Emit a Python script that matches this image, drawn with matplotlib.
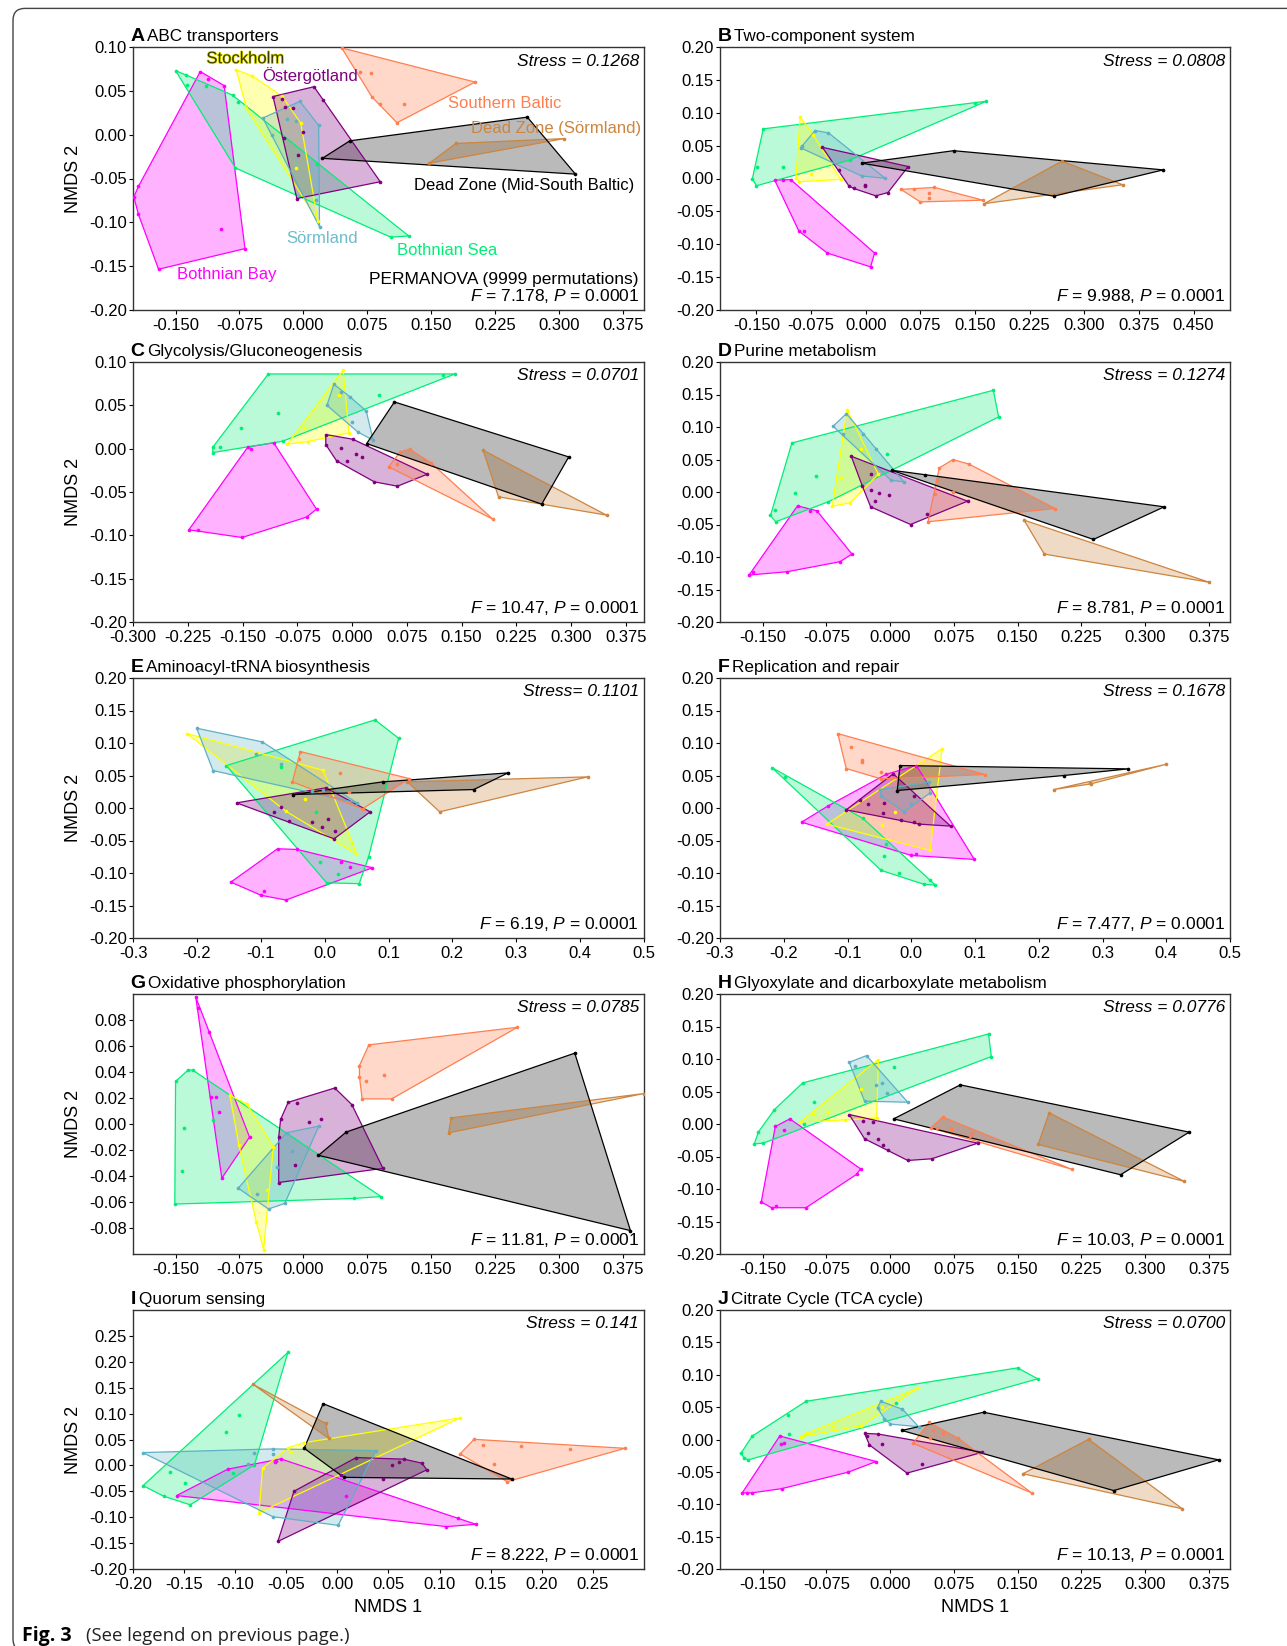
import matplotlib
matplotlib.use('Agg')
import matplotlib.pyplot as plt
import matplotlib.patheffects as pe
from matplotlib.patches import Polygon, FancyBboxPatch
from matplotlib.offsetbox import TextArea, HPacker, AnchoredOffsetbox
import numpy as np

plt.rcParams['font.family'] = ['Liberation Sans', 'DejaVu Sans']
plt.rcParams['axes.unicode_minus'] = False
plt.rcParams['mathtext.fontset'] = 'custom'
plt.rcParams['mathtext.it'] = 'Liberation Sans:italic'
plt.rcParams['mathtext.rm'] = 'Liberation Sans'

# group order / colours
groups = ['bay', 'sea', 'stock', 'oster', 'sorm', 'south', 'dzs', 'dzm']
colors = {'bay': '#FF00FF', 'sea': '#00EE76', 'stock': '#FFFF00', 'oster': '#800080',
          'sorm': '#5FB0C4', 'south': '#FF7F50', 'dzs': '#CD853F', 'dzm': '#000000'}
fill_alpha = {'bay': 0.3, 'sea': 0.27, 'stock': 0.3, 'oster': 0.3,
              'sorm': 0.28, 'south': 0.3, 'dzs': 0.3, 'dzm': 0.27}

# ---- NMDS site scores (x, y) ----
A_pts = dict(
    bay=[(-0.121, 0.072), (-0.093, 0.056), (-0.112, 0.064), (-0.0685, -0.130), (-0.170, -0.1535),
         (-0.199, -0.071), (-0.1936, -0.059), (-0.1936, -0.091), (-0.097, -0.108)],
    sea=[(-0.150, 0.073), (-0.1375, 0.068), (-0.1366, 0.057), (-0.114, 0.056), (-0.083, 0.045),
         (-0.0765, 0.037), (0.016, -0.033), (0.1237, -0.1155), (0.1028, -0.117), (-0.0797, -0.038)],
    stock=[(-0.0788, 0.074), (-0.060, 0.067), (-0.025, 0.044), (-0.003, 0.013), (0.017, -0.098),
           (-0.0668, 0.030), (-0.009, -0.0375)],
    oster=[(-0.0356, 0.0435), (0.0125, 0.0547), (0.0227, 0.0397), (0.0903, -0.0537), (-0.0076, -0.0729),
           (-0.0254, 0.041), (-0.022, 0.031), (-0.012, 0.030), (-0.023, -0.004), (0.000, 0.003), (-0.006, -0.023)],
    sorm=[(-0.0476, 0.019), (-0.004, 0.038), (0.018, 0.0105), (0.019, -0.105), (-0.0365, 0.000),
          (-0.0196, 0.018), (-0.0085, 0.016), (0.0147, -0.075)],
    south=[(0.045, 0.099), (0.2016, 0.060), (0.110, 0.0136), (0.067, 0.072), (0.079, 0.070),
           (0.0806, 0.043), (0.0895, 0.035), (0.118, 0.0355)],
    dzs=[(0.148, -0.0325), (0.179, -0.010), (0.306, -0.0045)],
    dzm=[(0.0223, -0.027), (0.0547, -0.007), (0.263, 0.020), (0.3195, -0.045)],
)

B_pts = dict(
    bay=[(-0.125, -0.0023), (-0.1139, -0.0023), (-0.1028, -0.0018), (-0.0917, -0.080), (-0.0844, -0.080),
         (-0.0528, -0.1134), (0.0122, -0.1134), (0.0067, -0.1344)],
    sea=[(0.1656, 0.1175), (0.150, 0.1145), (-0.1406, 0.0755), (-0.1556, -0.0003), (-0.150, -0.011),
         (-0.149, 0.0172), (-0.114, 0.0177), (-0.0222, 0.0279)],
    stock=[(-0.090, 0.0935), (-0.0956, 0.0013), (-0.0917, -0.005), (-0.0344, -0.0013), (-0.075, 0.0064),
           (-0.0722, 0.0668)],
    oster=[(-0.0594, 0.0474), (0.0583, 0.0182), (0.0306, -0.0213), (0.0139, -0.0264), (-0.0167, -0.0151),
           (-0.0233, -0.011), (-0.0361, 0.0131), (-0.001, -0.010), (-0.001, -0.012)],
    sorm=[(-0.0694, 0.073), (-0.0511, 0.0694), (-0.0889, 0.0464), (0.0267, 0.0003), (-0.0056, 0.0038),
          (-0.0878, 0.0489)],
    south=[(0.0483, -0.0166), (0.0667, -0.0156), (0.0944, -0.0136), (0.1611, -0.033), (0.075, -0.0356),
           (0.0867, -0.0228), (0.0867, -0.0295)],
    dzs=[(0.1628, -0.0382), (0.2694, 0.0264), (0.3528, -0.0095)],
    dzm=[(-0.0056, 0.0233), (0.1206, 0.0423), (0.4083, 0.0131), (0.2583, -0.0269)],
)

C_pts = dict(
    bay=[(-0.1426, 0.002), (-0.1072, 0.0067), (-0.0486, -0.0698), (-0.0623, -0.079), (-0.1506, -0.1025),
         (-0.2113, -0.094), (-0.2235, -0.0936), (-0.139, 0.000)],
    sea=[(-0.1146, 0.0862), (0.141, 0.0862), (0.124, 0.0846), (-0.1907, 0.0017), (-0.1907, -0.0045),
         (-0.1807, 0.0017), (-0.152, 0.0243), (-0.1014, 0.0416), (0.037, 0.0624), (-0.095, 0.0086)],
    stock=[(-0.0122, 0.0904), (-0.0042, 0.0182), (-0.0887, 0.0051), (-0.0607, 0.0082), (-0.066, 0.024),
           (-0.0174, 0.0616)],
    oster=[(-0.0359, 0.0163), (0.0011, 0.0109), (0.103, -0.0295), (0.0623, -0.0433), (0.0306, -0.0383),
           (-0.0211, -0.0141), (-0.0359, 0.0047), (-0.0148, 0.0009), (0.0053, -0.0064), (0.0132, -0.0099),
           (-0.0063, -0.0141)],
    sorm=[(-0.0248, 0.0743), (-0.0343, 0.050), (0.0195, 0.0435), (0.029, 0.0097), (-0.0148, 0.0654),
          (-0.0026, 0.0597), (0.0, 0.0305), (0.0079, 0.0193)],
    south=[(0.0792, -0.0007), (0.066, -0.0037), (0.0502, -0.021), (0.1928, -0.0813), (0.1083, -0.0164),
           (0.0993, -0.0126), (0.0623, -0.0172)],
    dzs=[(0.1796, -0.0018), (0.2007, -0.0556), (0.3487, -0.0767), (0.2599, -0.0633)],
    dzm=[(0.0201, 0.0059), (0.0581, 0.0539), (0.2969, -0.0095), (0.2599, -0.064)],
)

D_pts = dict(
    bay=[(-0.1088, -0.0213), (-0.086, -0.0289), (-0.0936, -0.0289), (-0.0447, -0.0955), (-0.0589, -0.1073),
         (-0.1211, -0.1227), (-0.161, -0.1227), (-0.1658, -0.1278)],
    sea=[(0.1216, 0.1565), (0.1278, 0.1155), (-0.1154, 0.0755), (-0.1406, -0.0361), (-0.1344, -0.0458),
         (-0.1349, -0.0279), (-0.1121, -0.0023), (-0.0869, 0.0243), (-0.0727, -0.0151), (-0.0038, 0.0581)],
    stock=[(-0.0504, 0.1268), (-0.0679, -0.0218), (-0.047, -0.0167), (-0.0138, 0.0274), (-0.0575, 0.0223),
           (-0.0337, 0.0663)],
    oster=[(-0.0456, 0.055), (0.0912, -0.0141), (0.0242, -0.05), (-0.0228, -0.0228), (-0.0328, 0.01),
           (-0.0228, 0.0284), (-0.0228, 0.0038), (-0.0124, -0.0023), (-0.018, -0.0136), (-0.001, -0.0049),
           (0.0432, -0.0341)],
    sorm=[(-0.067, 0.1012), (-0.0513, 0.1206), (0.0162, 0.0156), (0.001, 0.0182), (-0.0551, 0.0899),
          (-0.0314, 0.0889), (-0.0166, 0.0668)],
    south=[(0.0741, 0.0499), (0.0931, 0.0428), (0.058, 0.0371), (0.0551, 0.0192), (0.0527, -0.0033),
           (0.0447, -0.0458), (0.1943, -0.0254), (0.0736, 0.0)],
    dzs=[(0.1577, -0.0433), (0.1815, -0.0955), (0.3758, -0.139)],
    dzm=[(0.0019, 0.0335), (0.0413, 0.0259), (0.3226, -0.0228), (0.2394, -0.073)],
)

E_pts = dict(
    bay=[(-0.0737, -0.0627), (-0.0428, -0.0638), (0.0749, -0.0919), (-0.0606, -0.1416), (-0.0993, -0.1344),
         (-0.1468, -0.114), (-0.0945, -0.1278), (0.0256, -0.0832), (0.0404, -0.0904)],
    sea=[(0.079, 0.1355), (0.1159, 0.1073), (0.0541, -0.1165), (0.003, -0.115), (-0.1539, 0.0653),
         (-0.0683, 0.0627), (-0.0131, -0.0064), (-0.0071, -0.0827), (0.0214, -0.1022), (0.0689, -0.075)],
    stock=[(-0.2152, 0.1145), (-0.0024, 0.0581), (0.0493, -0.0704), (0.0434, -0.0535), (-0.0606, -0.005),
           (-0.0309, 0.0146)],
    oster=[(-0.1379, 0.0079), (0.0018, 0.031), (0.0713, -0.0059), (0.0149, -0.0474), (-0.0796, -0.0064),
           (-0.0678, 0.0008), (-0.0565, -0.0202), (-0.0202, -0.0218), (-0.0042, -0.0289), (0.0059, -0.0166),
           (0.0155, -0.0356)],
    sorm=[(-0.2003, 0.1227), (-0.0975, 0.1017), (0.0505, 0.0079), (-0.1747, 0.0576), (-0.107, 0.0832),
          (-0.0683, 0.0679), (-0.019, 0.0259), (-0.0024, 0.0284)],
    south=[(-0.038, 0.0868), (0.1325, 0.0453), (0.0594, -0.0013), (-0.0505, 0.0402), (-0.0398, 0.0755),
           (0.0244, 0.0545), (0.0374, 0.0243)],
    dzs=[(0.1296, 0.0402), (0.4119, 0.0479), (0.1801, -0.0059)],
    dzm=[(-0.0499, 0.0207), (0.0909, 0.0402), (0.2871, 0.054), (0.2336, 0.0284)],
)

F_pts = dict(
    bay=[(0.0082, 0.0653), (0.0989, -0.0791), (0.0082, -0.0704), (0.0, -0.073), (-0.172, -0.0218),
         (-0.1304, 0.0033), (-0.039, 0.052)],
    sea=[(-0.2186, 0.0622), (-0.1984, 0.0479), (-0.0756, -0.0161), (-0.0391, -0.0561), (-0.0422, -0.074),
         (-0.0472, -0.096), (-0.0189, -0.0996), (0.0202, -0.1175), (0.0296, -0.1114), (0.0378, -0.1186)],
    stock=[(0.0485, 0.0914), (0.0296, -0.0653), (-0.1323, -0.0248), (-0.0252, -0.0064), (-0.0454, -0.0254)],
    oster=[(-0.0283, 0.0525), (-0.102, -0.0028), (0.0617, -0.0279), (-0.0806, 0.012), (-0.0674, 0.0069),
           (-0.0422, 0.0079), (-0.0441, -0.0084), (-0.0157, -0.0187), (0.005, -0.0213), (0.0126, -0.0248),
           (0.0044, 0.0192)],
    sorm=[(-0.0485, 0.0284), (0.0271, 0.0397), (0.0296, 0.0233), (-0.0113, -0.0059), (-0.0472, 0.0182),
          (0.0, 0.0069)],
    south=[(-0.1153, 0.1145), (0.1153, 0.0515), (-0.0472, 0.0448), (-0.102, 0.0607), (-0.0945, 0.0935),
           (-0.0769, 0.0745), (-0.0769, 0.0715), (-0.0472, 0.055)],
    dzs=[(0.2236, 0.0284), (0.2803, 0.0387), (0.4, 0.0673), (0.2816, 0.0371)],
    dzm=[(-0.0176, 0.0653), (-0.022, 0.0269), (0.2394, 0.05), (0.3402, 0.0602)],
)

G_pts = dict(
    bay=[(-0.1264, 0.0979), (-0.1242, 0.0889), (-0.1113, 0.0706), (-0.0632, -0.0101), (-0.0957, -0.0417),
         (-0.109, 0.0205), (-0.1024, 0.0208), (-0.0988, 0.0093)],
    sea=[(-0.15, 0.0328), (-0.1353, 0.0415), (-0.13, 0.0415), (0.0912, -0.0558), (0.0592, -0.0573),
         (-0.1509, -0.0616), (-0.1397, -0.0034), (-0.142, -0.0361), (-0.1055, 0.0029)],
    stock=[(-0.0863, 0.0221), (-0.0663, 0.0154), (-0.0352, -0.0175), (-0.0467, -0.0966), (-0.0552, -0.0756),
           (-0.0757, -0.0162), (-0.0423, -0.0507)],
    oster=[(-0.0178, 0.0167), (0.0369, 0.0277), (0.057, 0.0149), (0.0935, -0.0341), (-0.0289, -0.045),
           (-0.0267, 0.0035), (-0.0076, 0.0162), (-0.0289, -0.0098), (0.0067, 0.0017), (0.0205, 0.0042),
           (-0.0098, -0.0315)],
    sorm=[(-0.0765, -0.0494), (-0.0409, -0.0654), (-0.0218, -0.0611), (0.0182, -0.0016), (-0.0196, -0.0067),
          (-0.0134, -0.0208), (-0.0307, -0.0331), (-0.0543, -0.0542)],
    south=[(0.077, 0.0609), (0.2514, 0.0744), (0.1037, 0.0193), (0.069, 0.0193), (0.0659, 0.045),
           (0.0659, 0.0364), (0.0739, 0.0333), (0.0948, 0.0379)],
    dzs=[(0.1736, 0.0047), (0.1705, -0.0068), (0.3996, 0.0234)],
    dzm=[(0.0178, -0.0241), (0.0503, -0.0062), (0.3187, 0.0545), (0.3841, -0.082)],
)

H_pts = dict(
    bay=[(-0.1178, 0.0079), (-0.1349, -0.0038), (-0.0347, -0.0689), (-0.0394, -0.0776), (-0.0988, -0.1288),
         (-0.1392, -0.1288), (-0.1515, -0.1201), (-0.1249, -0.0085), (-0.1340, -0.1260)],
    sea=[(0.1159, 0.1385), (0.1192, 0.1037), (-0.1026, 0.0633), (-0.1359, 0.0223), (-0.1549, -0.0125),
         (-0.1596, -0.0305), (-0.1492, -0.0295), (-0.1012, 0.0003), (-0.0893, 0.0335), (0.0052, 0.0883)],
    stock=[(-0.0138, 0.0991), (-0.0157, 0.009), (-0.0527, 0.0064), (-0.1059, 0.0028), (-0.0907, 0.0156),
           (-0.0727, 0.0192), (-0.0337, 0.054)],
    oster=[(-0.048, 0.0146), (0.1031, -0.0295), (0.0494, -0.0535), (0.0209, -0.0561), (-0.0299, -0.0228),
           (-0.0314, 0.0044), (-0.0195, 0.0028), (-0.0257, -0.0141), (-0.0138, -0.0228), (-0.0086, -0.033),
           (-0.0029, -0.0397)],
    sorm=[(-0.048, 0.095), (-0.0276, 0.1052), (0.0209, 0.0335), (-0.0299, 0.0351), (-0.0162, 0.0602),
          (-0.01, 0.0633), (-0.0038, 0.0479), (-0.041, 0.090)],
    south=[(0.0622, 0.0105), (0.048, -0.0059), (0.2143, -0.0699), (0.0969, -0.0136), (0.0556, -0.0059),
           (0.0722, -0.0074), (0.0936, -0.0187)],
    dzs=[(0.1872, 0.0172), (0.1743, -0.0315), (0.3463, -0.0883)],
    dzm=[(0.0043, 0.0079), (0.0827, 0.0602), (0.352, -0.0125), (0.2713, -0.0781)],
)

I_pts = dict(
    bay=[(-0.1573, -0.0582), (-0.1071, -0.0072), (-0.0602, 0.0088), (-0.0554, 0.0126), (0.1355, -0.1137),
         (0.1182, -0.1023), (0.1067, -0.1182), (0.0081, -0.0582), (-0.0609, 0.0062)],
    sea=[(-0.0484, 0.2181), (-0.0812, 0.0011), (-0.144, -0.0761), (-0.1699, -0.0595), (-0.1902, -0.0391),
         (-0.1636, -0.0129), (-0.1496, -0.0346), (-0.1093, 0.0643), (-0.0964, 0.0981), (-0.1019, -0.0148)],
    stock=[(0.12, 0.0917), (-0.0768, -0.0914), (-0.0731, -0.0053), (-0.048, 0.0343), (-0.0454, 0.0267),
           (-0.0325, 0.0439)],
    oster=[(0.0185, 0.0152), (0.0654, 0.012), (0.0827, 0.0043), (0.0875, -0.0085), (-0.0583, -0.1469),
           (-0.0425, -0.0499), (0.0535, 0.0011), (0.0598, 0.0075), (0.0443, -0.027), (0.0037, -0.018)],
    sorm=[(-0.1905, 0.0247), (0.0377, 0.0286), (0.0007, -0.1157), (-0.0631, -0.0991), (-0.0812, 0.0235),
          (-0.0631, 0.0318), (-0.0631, 0.0222), (-0.0871, 0.0024)],
    south=[(0.1337, 0.0503), (0.2814, 0.033), (0.1662, -0.0314), (0.12, 0.0222), (0.1429, 0.0394),
           (0.1798, 0.0369), (0.2278, 0.0311), (0.1532, 0.0024)],
    dzs=[(-0.0823, 0.1562), (-0.0114, 0.0809), (-0.0085, 0.0522)],
    dzm=[(-0.014, 0.1192), (-0.0325, 0.033), (0.0063, -0.0231), (0.1706, -0.0263)],
)

J_pts = dict(
    bay=[(-0.1297, 0.0054), (-0.0162, -0.034), (-0.0489, -0.0503), (-0.1273, -0.0759), (-0.1629, -0.0825),
         (-0.1677, -0.0825), (-0.1739, -0.0825), (-0.1287, -0.0074), (-0.1249, -0.0059)],
    sea=[(0.1501, 0.1106), (0.1739, 0.0937), (-0.0988, 0.059), (-0.1202, 0.0381), (-0.162, 0.0054),
         (-0.1753, -0.0212), (-0.1715, -0.0289), (-0.1667, -0.0314), (-0.1183, 0.0084), (0.0067, 0.057)],
    stock=[(0.0328, 0.0794), (-0.105, 0.0043), (-0.0979, 0.0094), (-0.0337, 0.0212), (-0.067, 0.0212),
           (-0.01, 0.0503)],
    oster=[(-0.0299, 0.0095), (-0.0138, 0.0084), (0.1088, -0.0197), (0.02, -0.0519), (-0.0242, -0.0084),
           (-0.009, -0.0069), (0.0375, -0.0375), (-0.027, 0.006)],
    sorm=[(-0.0109, 0.059), (0.0147, 0.0467), (0.0337, 0.0197), (0.0005, 0.0238), (-0.0147, 0.0488),
          (-0.0067, 0.0324)],
    south=[(0.0461, 0.0263), (0.0803, 0.0018), (0.1667, -0.0825), (0.0271, -0.0059), (0.0508, 0.0146),
           (0.0622, 0.0095), (0.047, 0.0028)],
    dzs=[(0.2337, 0.0003), (0.3439, -0.107), (0.1563, -0.0529)],
    dzm=[(0.0138, 0.014), (0.1102, 0.0421), (0.3867, -0.0314), (0.2632, -0.0789)],
)

panel_letters = ['A', 'B', 'C', 'D', 'E', 'F', 'G', 'H', 'I', 'J']
panel_titles = ['ABC transporters', 'Two-component system', 'Glycolysis/Gluconeogenesis',
                'Purine metabolism', 'Aminoacyl-tRNA biosynthesis', 'Replication and repair',
                'Oxidative phosphorylation', 'Glyoxylate and dicarboxylate metabolism',
                'Quorum sensing', 'Citrate Cycle (TCA cycle)']
panel_data = [A_pts, B_pts, C_pts, D_pts, E_pts, F_pts, G_pts, H_pts, I_pts, J_pts]
stress_labels = ['Stress = 0.1268', 'Stress = 0.0808', 'Stress = 0.0701', 'Stress = 0.1274',
                 'Stress= 0.1101', 'Stress = 0.1678', 'Stress = 0.0785', 'Stress = 0.0776',
                 'Stress = 0.141', 'Stress = 0.0700']
f_values = ['7.178', '9.988', '10.47', '8.781', '6.19', '7.477', '11.81', '10.03', '8.222', '10.13']

# axis settings: xlim, xticks, x decimals, ylim, yticks, y decimals
x075 = np.arange(-0.150, 0.376, 0.075)
y05 = np.arange(-0.20, 0.201, 0.05)
axis_cfg = [
    ((-0.2, 0.4), x075, 3, (-0.2, 0.1), np.arange(-0.20, 0.101, 0.05), 2),
    ((-0.2, 0.5), np.arange(-0.150, 0.451, 0.075), 3, (-0.2, 0.2), y05, 2),
    ((-0.3, 0.4), np.arange(-0.300, 0.376, 0.075), 3, (-0.2, 0.1), np.arange(-0.20, 0.101, 0.05), 2),
    ((-0.2, 0.4), x075, 3, (-0.2, 0.2), y05, 2),
    ((-0.3, 0.5), np.arange(-0.3, 0.51, 0.1), 1, (-0.2, 0.2), y05, 2),
    ((-0.3, 0.5), np.arange(-0.3, 0.51, 0.1), 1, (-0.2, 0.2), y05, 2),
    ((-0.2, 0.4), x075, 3, (-0.1, 0.1), np.arange(-0.08, 0.081, 0.02), 2),
    ((-0.2, 0.4), x075, 3, (-0.2, 0.2), y05, 2),
    ((-0.2, 0.3), np.arange(-0.20, 0.251, 0.05), 2, (-0.2, 0.3), np.arange(-0.20, 0.251, 0.05), 2),
    ((-0.2, 0.4), x075, 3, (-0.2, 0.2), y05, 2),
]


def convex_hull(pts):
    p = sorted(set(pts))
    if len(p) < 3:
        return p

    def cross(o, a, b):
        return (a[0] - o[0]) * (b[1] - o[1]) - (a[1] - o[1]) * (b[0] - o[0])
    lower, upper = [], []
    for q in p:
        while len(lower) >= 2 and cross(lower[-2], lower[-1], q) <= 0:
            lower.pop()
        lower.append(q)
    for q in reversed(p):
        while len(upper) >= 2 and cross(upper[-2], upper[-1], q) <= 0:
            upper.pop()
        upper.append(q)
    return lower[:-1] + upper[:-1]


def fmt(vals, d):
    return ['%.*f' % (d, round(v, 6) + 0.0) for v in vals]


W, H = 1287, 1646
fig = plt.figure(figsize=(W / 100, H / 100), dpi=100)

col_left = [133, 720]
col_right = [644, 1230]
row_top = [47, 362, 678, 994, 1310]
row_bot = [310, 622, 938, 1254, 1569]

frame = FancyBboxPatch((0.13, -0.05), 14.0, 16.46 - 0.084 + 0.05,
                       boxstyle='round,pad=0,rounding_size=0.12',
                       transform=fig.dpi_scale_trans, fill=False, ec='#444444', lw=1.0)
fig.patches.append(frame)

for i in range(10):
    r, c = divmod(i, 2)
    l, rr = col_left[c], col_right[c]
    t, b = row_top[r], row_bot[r]
    ax = fig.add_axes([l / W, 1 - b / H, (rr - l) / W, (b - t) / H])
    xlim, xticks, xd, ylim, yticks, yd = axis_cfg[i]

    pts = panel_data[i]
    for g in groups:
        arr = np.array(pts[g])
        h = convex_hull([tuple(p) for p in pts[g]])
        ax.add_patch(Polygon(h, closed=True, fc=colors[g], ec='none', alpha=fill_alpha[g], zorder=2))
        ax.add_patch(Polygon(h, closed=True, fill=False, ec=colors[g], lw=0.9, zorder=3))
        ax.scatter(arr[:, 0], arr[:, 1], s=7, c=colors[g], linewidths=0, zorder=4)

    ax.set_xlim(xlim)
    ax.set_ylim(ylim)
    ax.set_xticks(xticks)
    ax.set_xticklabels(fmt(xticks, xd))
    ax.set_yticks(yticks)
    ax.set_yticklabels(fmt(yticks, yd))
    ax.tick_params(direction='out', length=3, width=0.8, labelsize=12, colors='black')
    ax.tick_params(axis='x', pad=2.5)
    ax.tick_params(axis='y', pad=1.5)
    for s in ax.spines.values():
        s.set_linewidth(1.0)
        s.set_color('#333333')

    ax.text(0.99, 0.975, stress_labels[i], transform=ax.transAxes, ha='right', va='top',
            fontsize=12.5, fontstyle='italic')
    ax.text(0.99, 0.02, '$F$ = %s, $P$ = 0.0001' % f_values[i], transform=ax.transAxes,
            ha='right', va='bottom', fontsize=12.5)

    box = HPacker(children=[TextArea(panel_letters[i], textprops=dict(fontsize=14, fontweight='bold')),
                            TextArea(panel_titles[i], textprops=dict(fontsize=12.3))],
                  align='baseline', pad=0, sep=2)
    anch = AnchoredOffsetbox(loc='lower left', child=box, pad=0, borderpad=0.15, frameon=False,
                             bbox_to_anchor=(-0.009, 1.0), bbox_transform=ax.transAxes)
    ax.add_artist(anch)

    if c == 0:
        ax.set_ylabel('NMDS 2', fontsize=13, labelpad=5)
    if r == 4:
        ax.set_xlabel('NMDS 1', fontsize=13, labelpad=5)

    if i == 0:
        ax.text(-0.068, 0.0866, 'Stockholm', color='#3a3a00', fontsize=12, ha='center', va='center',
                path_effects=[pe.withStroke(linewidth=1.0, foreground='#E8E800')], zorder=6)
        ax.text(0.0076, 0.0673, 'Östergötland', color='#800080', fontsize=12, ha='center', va='center', zorder=6)
        ax.text(0.237, 0.0358, 'Southern Baltic', color='#FF7F50', fontsize=12, ha='center', va='center', zorder=6)
        ax.text(0.397, 0.0067, 'Dead Zone (Sörmland)', color='#CD853F', fontsize=12, ha='right', va='center',
                zorder=6)
        ax.text(0.389, -0.0575, 'Dead Zone (Mid-South Baltic)', color='black', fontsize=12, ha='right',
                va='center', zorder=6)
        ax.text(0.0218, -0.118, 'Sörmland', color='#6FBCCB', fontsize=12, ha='center', va='center', zorder=6)
        ax.text(0.169, -0.1324, 'Bothnian Sea', color='#00EE76', fontsize=12, ha='center', va='center', zorder=6)
        ax.text(-0.0899, -0.160, 'Bothnian Bay', color='#FF00FF', fontsize=12, ha='center', va='center', zorder=6)
        ax.text(0.99, 0.117, 'PERMANOVA (9999 permutations)', transform=ax.transAxes, ha='right',
                va='center', fontsize=12.5)

fig.text(22 / W, 1 - 1636 / H, 'Fig. 3', fontsize=14, fontweight='bold', family='Open Sans',
         ha='left', va='center')
fig.text(86 / W, 1 - 1636 / H, '(See legend on previous page.)', fontsize=13.3, family='Open Sans',
         ha='left', va='center', color='#222222')

fig.savefig('out.png', dpi=100)
